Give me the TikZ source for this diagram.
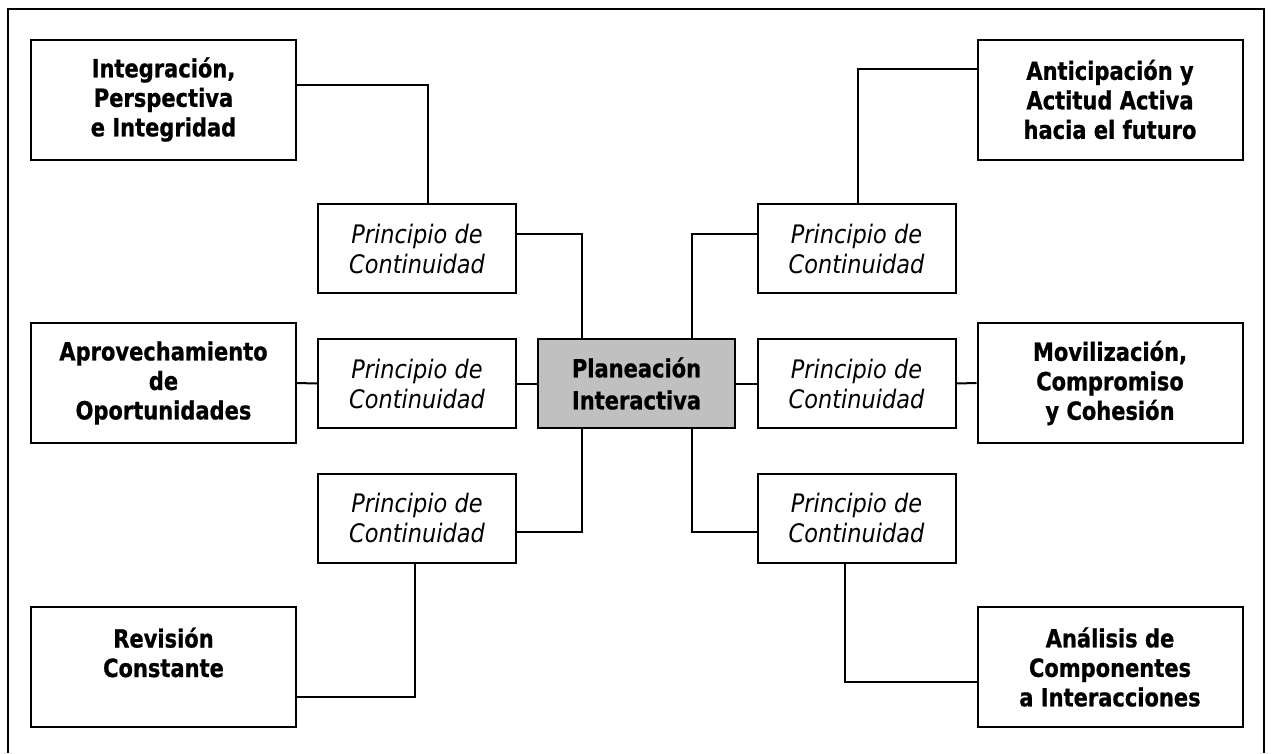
\documentclass[tikz,border=0pt]{standalone}
\usepackage{fontspec}
\setmainfont{DejaVu Sans}
\newfontfamily\tahfont[FakeStretch=0.84,BoldFeatures={FakeBold=0.8}]{DejaVu Sans}
\newfontfamily\tahital[FakeStretch=0.88]{DejaVu Sans}
\definecolor{centergray}{HTML}{C0C0C0}
\begin{document}
\begin{tikzpicture}[x=1pt,y=-1pt,
  bigbox/.style={draw, line width=2pt, rectangle, minimum width=265pt, minimum height=120pt, inner sep=0pt, align=center,
    font=\tahfont\fontsize{25}{29.5}\selectfont\bfseries},
  pbox/.style={draw, line width=2pt, rectangle, minimum width=198pt, minimum height=89pt, inner sep=0pt, align=center,
    font=\tahital\fontsize{25.5}{30}\selectfont\itshape},
  cbox/.style={draw, line width=2pt, rectangle, fill=centergray, minimum width=197pt, minimum height=89pt, inner sep=0pt, align=center,
    font=\tahfont\fontsize{25}{32}\selectfont\bfseries},
  link/.style={draw, line width=2pt}]
\useasboundingbox (0,0) rectangle (1272,753);
\fill[white] (0,0) rectangle (1272,753);
\draw[line width=2pt] (8,753) -- (8,9) -- (1264,9) -- (1264,753);

\node[cbox] (c) at (636.5,383.5) {Planeación\\Interactiva};

\node[bigbox] (int) at (163.5,99.5) {Integración,\\Perspectiva\\e Integridad};
\node[bigbox] (apr) at (163.5,383) {Aprovechamiento\\de\\Oportunidades};
\node[bigbox] (rev) at (163.5,667) {Revisión\\Constante\\\mbox{}};
\node[bigbox] (ant) at (1110,99.5) {Anticipación y\\Actitud Activa\\hacia el futuro};
\node[bigbox] (mov) at (1110,383) {Movilización,\\Compromiso\\y Cohesión};
\node[bigbox] (ana) at (1110,667) {Análisis de\\Componentes\\a Interacciones};

\node[pbox] (ptl) at (417,248.5) {Principio de\\Continuidad};
\node[pbox] (pml) at (417,383.5) {Principio de\\Continuidad};
\node[pbox] (pbl) at (417,518) {Principio de\\Continuidad};
\node[pbox] (ptr) at (856.5,248.5) {Principio de\\Continuidad};
\node[pbox] (pmr) at (856.5,383.5) {Principio de\\Continuidad};
\node[pbox] (pbr) at (856.5,518) {Principio de\\Continuidad};

% top left
\draw[link] ([yshift=14.5pt]int.east) -| ([xshift=11pt]ptl.north);
\draw[link] ([yshift=14.5pt]ptl.east) -| ([xshift=-54.5pt]c.north);
% top right
\draw[link] ([yshift=30.5pt]ant.west) -| ([xshift=1.5pt]ptr.north);
\draw[link] ([yshift=14.5pt]ptr.west) -| ([xshift=55.5pt]c.north);
% middle
\draw[link] (apr.east) -- (pml.west);
\draw[link] (pml.east) -- (c.west);
\draw[link] (c.east) -- (pmr.west);
\draw[link] (pmr.east) -- (mov.west);
% bottom left
\draw[link] ([xshift=-54.5pt]c.south) |- ([yshift=-14pt]pbl.east);
\draw[link] ([xshift=-2pt]pbl.south) |- ([yshift=-30pt]rev.east);
% bottom right
\draw[link] ([xshift=55.5pt]c.south) |- ([yshift=-14pt]pbr.west);
\draw[link] ([xshift=-11.5pt]pbr.south) |- ([yshift=-15pt]ana.west);
\end{tikzpicture}
\end{document}
